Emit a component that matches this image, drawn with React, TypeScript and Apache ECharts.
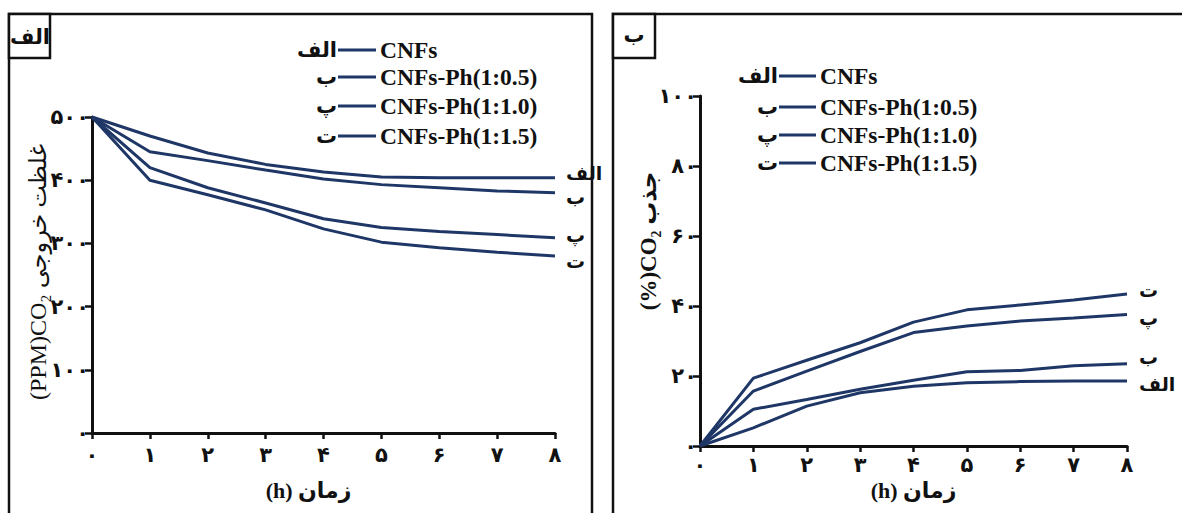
import React, { useEffect, useRef } from "react";
import * as echarts from "echarts";

const hours = [0, 1, 2, 3, 4, 5, 6, 7, 8];
const seriesNames = ["CNFs", "CNFs-Ph(1:0.5)", "CNFs-Ph(1:1.0)", "CNFs-Ph(1:1.5)"];
const seriesLetters = ["الف", "ب", "پ", "ت"];

// Panel الف : outlet CO2 concentration (PPM)
const outCNFs = [500, 470, 443, 425, 413, 405, 404, 404, 404];
const outPh05 = [500, 445, 431, 416, 402, 393, 388, 383, 380];
const outPh10 = [500, 420, 388, 364, 339, 325, 319, 314, 309];
const outPh15 = [500, 400, 377, 353, 323, 302, 293, 286, 280];

// Panel ب : CO2 adsorption (%)
const adsCNFs = [0, 5.2, 11.4, 15.2, 17.1, 18.1, 18.4, 18.6, 18.6];
const adsPh05 = [0, 10.5, 13.3, 16.2, 18.8, 21.2, 21.6, 22.9, 23.5];
const adsPh10 = [0, 15.7, 21.4, 27.0, 32.4, 34.3, 35.7, 36.6, 37.6];
const adsPh15 = [0, 19.4, 24.5, 29.5, 35.4, 38.9, 40.3, 41.7, 43.4];

const xAxisName = "(h) زمان";
const leftYName = "(PPM)CO₂ غلظت خروجی";
const rightYName = "(%)CO₂ جذب";
const panelLabels = ["الف", "ب"];

const fa = (v: number | string) =>
  String(v).replace(/\d/g, (d) => "۰۱۲۳۴۵۶۷۸۹"[+d]);

const LINE = "#1f3766";
const INK = "#111";
const SERIF = "'Liberation Serif', 'DejaVu Sans', serif";
const DIGIT = "'DejaVu Sans', sans-serif";

function axisX(gridIndex: number, margin: number, nameGap: number, pad: number[]) {
  return {
    gridIndex,
    type: "value",
    min: 0,
    max: 8,
    interval: 1,
    axisLine: { show: true, lineStyle: { color: INK, width: 3 } },
    axisTick: { show: true, length: 6, lineStyle: { color: INK, width: 2.5 } },
    axisLabel: {
      formatter: (v: number) => fa(v),
      margin,
      fontSize: 21,
      fontWeight: "bold",
      color: INK,
      fontFamily: DIGIT,
    },
    splitLine: { show: false },
    name: xAxisName,
    nameLocation: "middle",
    nameGap,
    nameTextStyle: {
      fontSize: 22,
      fontWeight: "bold",
      color: INK,
      fontFamily: SERIF,
      padding: pad,
    },
  };
}

function axisY(gridIndex: number, max: number, interval: number) {
  return {
    gridIndex,
    type: "value",
    min: 0,
    max,
    interval,
    axisLine: { show: true, lineStyle: { color: INK, width: 3 } },
    axisTick: { show: true, length: 7, lineStyle: { color: INK, width: 2.5 } },
    axisLabel: {
      formatter: (v: number) => fa(v),
      margin: 3,
      fontSize: 21,
      fontWeight: "bold",
      color: INK,
      fontFamily: DIGIT,
    },
    splitLine: { show: false },
  };
}

function lineSeries(idx: number, values: number[], letter: string, offset: number[]) {
  return {
    type: "line",
    name: letter,
    xAxisIndex: idx,
    yAxisIndex: idx,
    data: hours.map((h, i) => [h, values[i]]),
    showSymbol: false,
    symbol: "none",
    lineStyle: { color: LINE, width: 3 },
    endLabel: {
      show: true,
      formatter: letter,
      offset,
      fontSize: 19,
      fontWeight: "bold",
      color: INK,
      fontFamily: SERIF,
    },
  };
}

function legendRows(lineX1: number, lineX2: number, ys: number[]) {
  const els: any[] = [];
  ys.forEach((y, i) => {
    els.push({
      type: "text",
      x: lineX1 - 1,
      y,
      style: {
        text: seriesLetters[i],
        align: "right",
        verticalAlign: "middle",
        fontSize: 21,
        fontWeight: "bold",
        fill: INK,
        fontFamily: SERIF,
      },
    });
    els.push({
      type: "line",
      shape: { x1: lineX1, y1: y, x2: lineX2, y2: y },
      style: { stroke: LINE, lineWidth: 3 },
    });
    els.push({
      type: "text",
      x: lineX2 + 4,
      y,
      style: {
        text: seriesNames[i],
        align: "left",
        verticalAlign: "middle",
        fontSize: 23.5,
        fontWeight: "bold",
        fill: INK,
        fontFamily: SERIF,
      },
    });
  });
  return els;
}

export default function App() {
  const ref = useRef<HTMLDivElement>(null);
  useEffect(() => {
    if (!ref.current) return;
    const chart = echarts.init(ref.current, null, { renderer: "svg" });
    const option: any = {
      animation: false,
      backgroundColor: "#fff",
      grid: [
        { left: 92, right: 627, top: 117, bottom: 80 },
        { left: 700, right: 55, top: 96, bottom: 67 },
      ],
      xAxis: [axisX(0, 11, 46, [0, 30, 0, 0]), axisX(1, 8, 28, [0, 0, 0, 0])],
      yAxis: [axisY(0, 500, 100), axisY(1, 100, 20)],
      series: [
        lineSeries(0, outCNFs, seriesLetters[0], [3, -4]),
        lineSeries(0, outPh05, seriesLetters[1], [3, 5]),
        lineSeries(0, outPh10, seriesLetters[2], [3, -2]),
        lineSeries(0, outPh15, seriesLetters[3], [3, 5]),
        lineSeries(1, adsCNFs, seriesLetters[0], [4, 4]),
        lineSeries(1, adsPh05, seriesLetters[1], [4, -6]),
        lineSeries(1, adsPh10, seriesLetters[2], [4, 4]),
        lineSeries(1, adsPh15, seriesLetters[3], [4, -4]),
      ],
      graphic: [
        // panel frames
        {
          type: "polyline",
          shape: { points: [[9, 520], [9, 14], [592, 14], [592, 520]] },
          style: { stroke: INK, lineWidth: 2.5, fill: "none" },
        },
        {
          type: "polyline",
          shape: { points: [[613, 520], [613, 14], [1190, 14]] },
          style: { stroke: INK, lineWidth: 2.5, fill: "none" },
        },
        {
          type: "rect",
          shape: { x: 9, y: 14, width: 41, height: 44 },
          style: { stroke: INK, lineWidth: 2.5, fill: "#fff" },
        },
        {
          type: "rect",
          shape: { x: 613, y: 14, width: 42, height: 44 },
          style: { stroke: INK, lineWidth: 2.5, fill: "#fff" },
        },
        {
          type: "text",
          x: 30,
          y: 37,
          style: {
            text: panelLabels[0],
            align: "center",
            verticalAlign: "middle",
            fontSize: 21,
            fontWeight: "bold",
            fill: INK,
            fontFamily: SERIF,
          },
        },
        {
          type: "text",
          x: 634,
          y: 35,
          style: {
            text: panelLabels[1],
            align: "center",
            verticalAlign: "middle",
            fontSize: 21,
            fontWeight: "bold",
            fill: INK,
            fontFamily: SERIF,
          },
        },
        // y-axis names
        {
          type: "text",
          x: 38,
          y: 272,
          rotation: Math.PI / 2,
          style: {
            text: leftYName,
            align: "center",
            verticalAlign: "middle",
            fontSize: 24,
            fill: INK,
            fontFamily: SERIF,
          },
        },
        {
          type: "text",
          x: 648,
          y: 241,
          rotation: Math.PI / 2,
          style: {
            text: rightYName,
            align: "center",
            verticalAlign: "middle",
            fontSize: 23,
            fontWeight: "bold",
            fill: INK,
            fontFamily: SERIF,
          },
        },
        ...legendRows(338, 376, [50, 77, 106, 136]),
        ...legendRows(779, 816, [76, 107, 135, 163]),
      ],
    };
    chart.setOption(option);
    return () => chart.dispose();
  }, []);
  return (
    <div
      ref={ref}
      style={{ position: "fixed", left: 0, top: 0, width: 1182, height: 513 }}
    />
  );
}
